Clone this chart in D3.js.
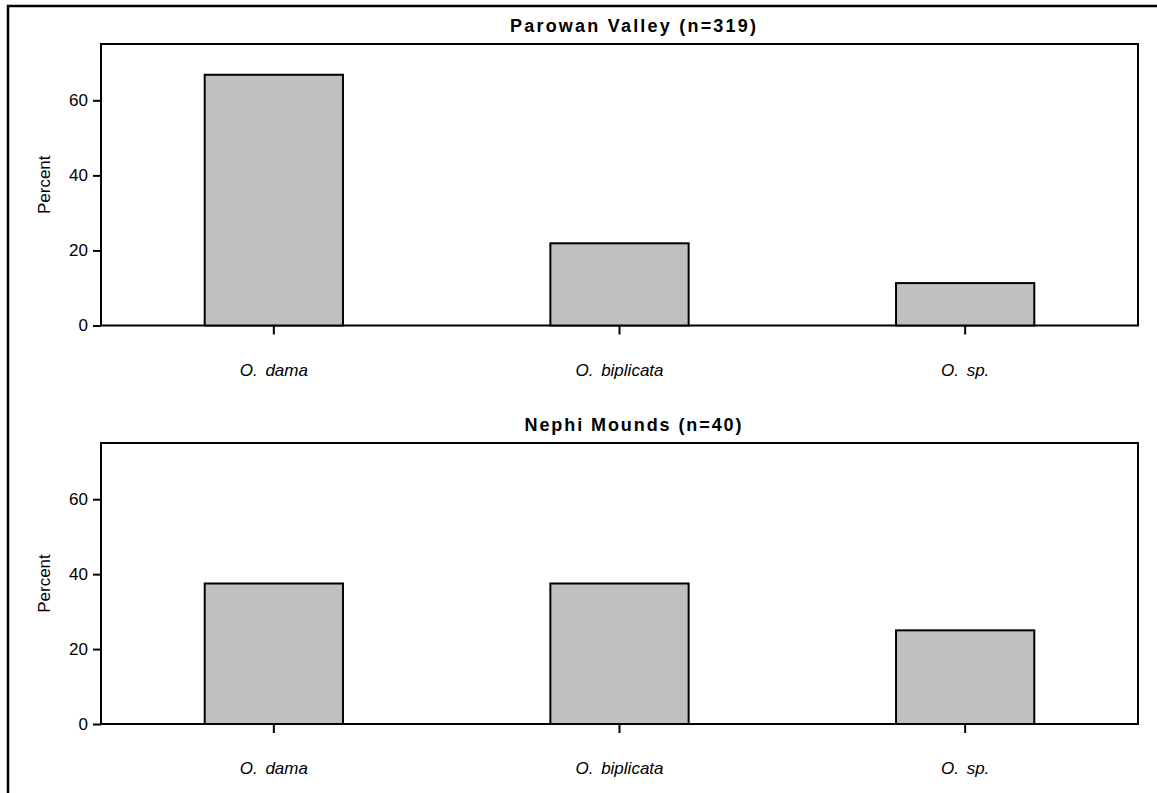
<!DOCTYPE html>
<html>
<head>
<meta charset="utf-8">
<script src="https://cdn.jsdelivr.net/npm/d3@7"></script>
<style>
  html, body { margin: 0; padding: 0; background: #fff; }
  svg { display: block; }
  text { font-family: "Liberation Sans", Arial, sans-serif; fill: #000; }
</style>
</head>
<body>
<svg id="chart" width="1157" height="793"></svg>
<script>
// Shell species shares per site (percent of identified specimens)
const categories = ["O. dama", "O. biplicata", "O. sp."];
const parowanValues = [66.8, 21.9, 11.3];
const nephiValues = [37.5, 37.5, 25.0];
const yTicks = [0, 20, 40, 60];
const panelTitles = ["Parowan Valley (n=319)", "Nephi Mounds (n=40)"];
const yLabel = "Percent";

const svg = d3.select("#chart");

// Outer frame of the figure (extends past the visible area on right/bottom)
svg.append("rect")
  .attr("x", 8).attr("y", 6)
  .attr("width", 1200).attr("height", 840)
  .attr("fill", "none").attr("stroke", "#000").attr("stroke-width", 2.5);

const panels = [
  { title: panelTitles[0], values: parowanValues, top: 44, bottom: 325.5, titleW: 246 },
  { title: panelTitles[1], values: nephiValues, top: 443, bottom: 724, titleW: 217 }
];

const left = 101, right = 1138;

panels.forEach(p => {
  const g = svg.append("g");
  const x = d3.scaleBand().domain(categories).range([left, right]).padding(0);
  const y = d3.scaleLinear().domain([0, 75]).range([p.bottom, p.top]);
  const barW = x.bandwidth() * 0.4;

  // Plot frame
  g.append("rect")
    .attr("x", left).attr("y", p.top)
    .attr("width", right - left).attr("height", p.bottom - p.top)
    .attr("fill", "none").attr("stroke", "#000").attr("stroke-width", 2);

  // Bars
  g.selectAll("rect.bar")
    .data(categories.map((c, i) => ({ c, v: p.values[i] })))
    .join("rect")
    .attr("class", "bar")
    .attr("x", d => x(d.c) + x.bandwidth() / 2 - barW / 2)
    .attr("y", d => y(d.v))
    .attr("width", barW)
    .attr("height", d => y(0) - y(d.v))
    .attr("fill", "#c0c0c0")
    .attr("stroke", "#000")
    .attr("stroke-width", 2);

  // Y axis
  const yAxis = g.append("g")
    .attr("transform", `translate(${left},0)`)
    .call(d3.axisLeft(y).tickValues(yTicks).tickSize(8).tickPadding(5).tickFormat(d3.format("d")));
  yAxis.select(".domain").remove();
  yAxis.selectAll(".tick line").attr("stroke", "#000").attr("stroke-width", 2);
  yAxis.selectAll(".tick text").style("font-size", "17px").attr("fill", "#000");

  // X axis ticks at category centres
  const xAxis = g.append("g")
    .attr("transform", `translate(0,${p.bottom})`)
    .call(d3.axisBottom(x).tickSize(9).tickFormat(""));
  xAxis.select(".domain").remove();
  xAxis.selectAll(".tick line").attr("stroke", "#000").attr("stroke-width", 2);

  // Category labels
  g.selectAll("text.cat")
    .data(categories)
    .join("text")
    .attr("class", "cat")
    .attr("x", d => x(d) + x.bandwidth() / 2)
    .attr("y", p.bottom + 50)
    .attr("text-anchor", "middle")
    .style("font-size", "17px")
    .style("font-style", "italic")
    .style("word-spacing", "3px")
    .text(d => d);

  // Y axis title
  g.append("text")
    .attr("transform", `translate(50,${(p.top + p.bottom) / 2}) rotate(-90)`)
    .attr("text-anchor", "middle")
    .style("font-size", "17px")
    .text(yLabel);

  // Panel title
  g.append("text")
    .attr("x", 633)
    .attr("y", p.top - 12)
    .attr("text-anchor", "middle")
    .attr("textLength", p.titleW)
    .attr("lengthAdjust", "spacing")
    .style("font-size", "18px")
    .style("font-weight", "bold")
    .text(p.title);
});
</script>
</body>
</html>
